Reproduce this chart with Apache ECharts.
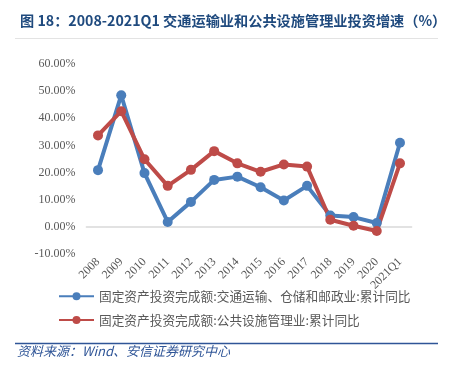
<!DOCTYPE html>
<html>
<head>
<meta charset="utf-8">
<script src="https://cdn.jsdelivr.net/npm/echarts@6/dist/echarts.min.js"></script>
<style>
html,body{margin:0;padding:0;background:#fff;}
#lineChart{width:454px;height:367px;}
</style>
</head>
<body>
<div id="lineChart"></div>
<script>
var years = ['2008','2009','2010','2011','2012','2013','2014','2015','2016','2017','2018','2019','2020','2021Q1'];
var transport = [20.9, 48.5, 19.8, 1.8, 9.2, 17.3, 18.5, 14.6, 9.7, 15.1, 4.2, 3.6, 1.4, 31.0];
var publicFac = [33.7, 42.6, 24.9, 15.1, 21.0, 27.9, 23.4, 20.3, 23.0, 22.2, 2.6, 0.4, -1.5, 23.4];
var names = ['固定资产投资完成额:交通运输、仓储和邮政业:累计同比', '固定资产投资完成额:公共设施管理业:累计同比'];

var myChart = echarts.init(document.getElementById('lineChart'));
var serif = '"Liberation Serif", "Noto Sans CJK SC", serif';
var cjk = '"Noto Sans CJK SC", sans-serif';
var option = {
    animation: false,
    title: {
        text: '图 18：2008-2021Q1 交通运输业和公共设施管理业投资增速（%）',
        left: 15,
        top: 9,
        textStyle: {
            fontFamily: cjk,
            fontSize: 14.2,
            fontWeight: 'bold',
            color: '#1F4A7E'
        }
    },
    legend: {
        orient: 'vertical',
        left: 53,
        top: 285,
        itemWidth: 35,
        itemHeight: 10,
        itemGap: 11,
        data: names,
        textStyle: {
            fontFamily: cjk,
            fontSize: 12.7,
            color: '#595959'
        }
    },
    grid: {
        left: 86.4,
        right: 42.4,
        top: 64,
        bottom: 113
    },
    xAxis: {
        type: 'category',
        data: years,
        axisLine: {onZero: true, lineStyle: {color: '#d9d9d9', width: 1.5}},
        axisTick: {show: false},
        axisLabel: {
            rotate: 45,
            margin: 6,
            interval: 0,
            fontFamily: serif,
            fontSize: 12,
            color: '#595959'
        }
    },
    yAxis: {
        type: 'value',
        min: -10,
        max: 60,
        interval: 10,
        splitLine: {show: false},
        axisLine: {show: false},
        axisTick: {show: false},
        axisLabel: {
            margin: 11,
            fontFamily: serif,
            fontSize: 12,
            color: '#595959',
            formatter: function (v) { return v.toFixed(2) + '%'; }
        }
    },
    series: [
        {
            name: names[0],
            type: 'line',
            data: transport,
            symbol: 'circle',
            symbolSize: 10,
            itemStyle: {color: '#4A7EBB'},
            lineStyle: {color: '#4A7EBB', width: 4}
        },
        {
            name: names[1],
            type: 'line',
            data: publicFac,
            symbol: 'circle',
            symbolSize: 10,
            itemStyle: {color: '#BE4B48'},
            lineStyle: {color: '#BE4B48', width: 4}
        }
    ],
    graphic: [
        {
            type: 'line',
            shape: {x1: 15, y1: 38.5, x2: 438, y2: 38.5},
            style: {stroke: '#e3e3e3', lineWidth: 1}
        },
        {
            type: 'line',
            shape: {x1: 15, y1: 343.5, x2: 438, y2: 343.5},
            style: {stroke: '#2F5597', lineWidth: 1.5}
        },
        {
            type: 'text',
            left: 17,
            top: 345,
            style: {
                text: '资料来源：Wind、安信证券研究中心',
                fill: '#2F5597',
                font: 'italic 13px "Noto Sans CJK SC", sans-serif'
            }
        }
    ]
};
myChart.setOption(option);
window.addEventListener('resize', function () {
    myChart.resize();
});
</script>
</body>
</html>
